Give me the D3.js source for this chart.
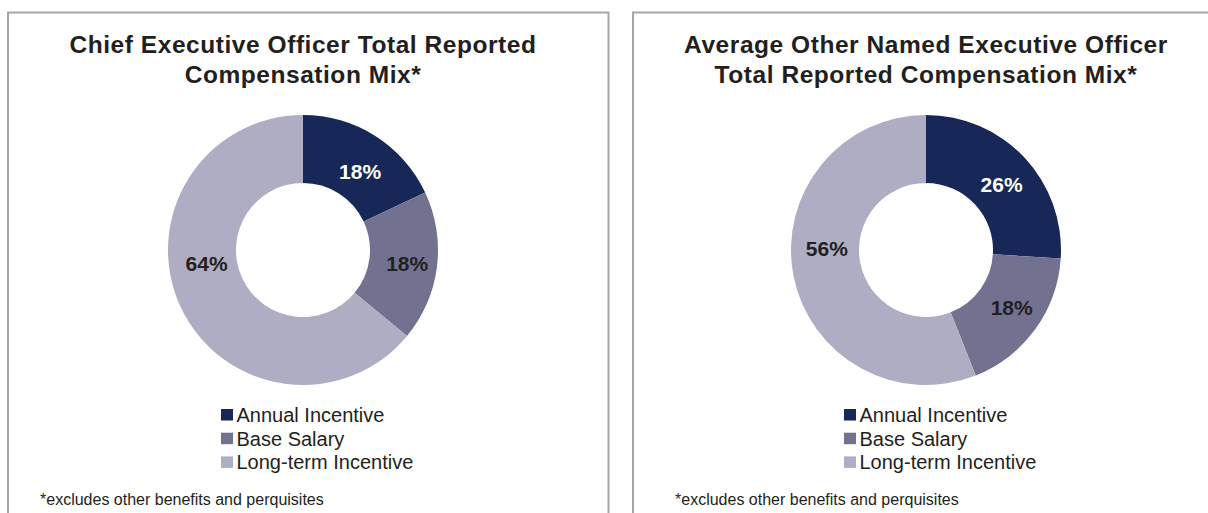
<!DOCTYPE html>
<html><head><meta charset="utf-8">
<script src="https://cdn.jsdelivr.net/npm/d3@7"></script>
<style>
body{margin:0;background:#fff;}
svg{display:block;font-family:"Liberation Sans",Arial,sans-serif;}
</style>
</head><body>
<svg id="chart" width="1208" height="513"></svg>
<script>
// ---- data ----
const categories = ["Annual Incentive", "Base Salary", "Long-term Incentive"];
const ceoValues = [18, 18, 64];
const neoValues = [26, 18, 56];
const ceoTitle = ["Chief Executive Officer Total Reported", "Compensation Mix*"];
const neoTitle = ["Average Other Named Executive Officer", "Total Reported Compensation Mix*"];
const footnote = "*excludes other benefits and perquisites";

// ---- styles ----
const colors = ["#172858", "#727290", "#aeadc4"];
const labelColors = ["#ffffff", "#231f20", "#231f20"];
const textColor = "#231f20";

const panels = [
  {values: ceoValues, title: ceoTitle, x: 8, w: 600.5, cx: 303, footX: 40,
   nudges: [[3, 7], [4, 1], [-5, -30]]},
  {values: neoValues, title: neoTitle, x: 633, w: 620, cx: 926, footX: 675,
   nudges: [[2, 4], [4, -2], [0, -20]]}
];

const svg = d3.select("#chart");
const color = d3.scaleOrdinal().domain(categories).range(colors);
const pie = d3.pie().sort(null).value(d => d.value);
const arc = d3.arc().innerRadius(67).outerRadius(135);
const labelArc = d3.arc().innerRadius(101).outerRadius(101);
const cy = 250;

panels.forEach(p => {
  const g = svg.append("g");
  g.append("rect")
    .attr("x", p.x).attr("y", 12.5)
    .attr("width", p.w).attr("height", 560)
    .attr("fill", "#fff").attr("stroke", "#a6a6a6").attr("stroke-width", 2);

  // title
  g.append("g").selectAll("text").data(p.title).join("text")
    .attr("x", p.cx).attr("y", (d, i) => 52.5 + i * 30)
    .attr("text-anchor", "middle")
    .attr("font-size", 24.5).attr("font-weight", "bold")
    .attr("letter-spacing", "0.55px")
    .attr("fill", textColor)
    .text(d => d);

  const data = categories.map((c, i) => ({cat: c, value: p.values[i], i}));
  const arcs = pie(data);
  const dg = g.append("g").attr("transform", `translate(${p.cx},${cy})`);
  dg.selectAll("path").data(arcs).join("path")
    .attr("d", arc)
    .attr("fill", d => color(d.data.cat));

  dg.selectAll("text").data(arcs).join("text")
    .attr("transform", d => {
      const c = labelArc.centroid(d);
      const n = p.nudges[d.data.i];
      return `translate(${c[0] + n[0]},${c[1] + n[1]})`;
    })
    .attr("text-anchor", "middle")
    .attr("dy", "0.36em")
    .attr("font-size", 21).attr("font-weight", "bold")
    .attr("fill", d => labelColors[d.data.i])
    .text(d => d.data.value + "%");

  // legend
  const lg = g.append("g").attr("transform", `translate(${p.cx - 82},0)`);
  const rows = lg.selectAll("g").data(categories).join("g")
    .attr("transform", (d, i) => `translate(0,${422 + i * 23.7})`);
  rows.append("rect")
    .attr("x", 0).attr("y", -13).attr("width", 12).attr("height", 11.5)
    .attr("fill", d => color(d));
  rows.append("text")
    .attr("x", 15.5).attr("y", 0)
    .attr("font-size", 20).attr("fill", textColor)
    .text(d => d);

  g.append("text")
    .attr("x", p.footX).attr("y", 505)
    .attr("font-size", 16).attr("fill", textColor)
    .text(footnote);
});
</script>
</body></html>
